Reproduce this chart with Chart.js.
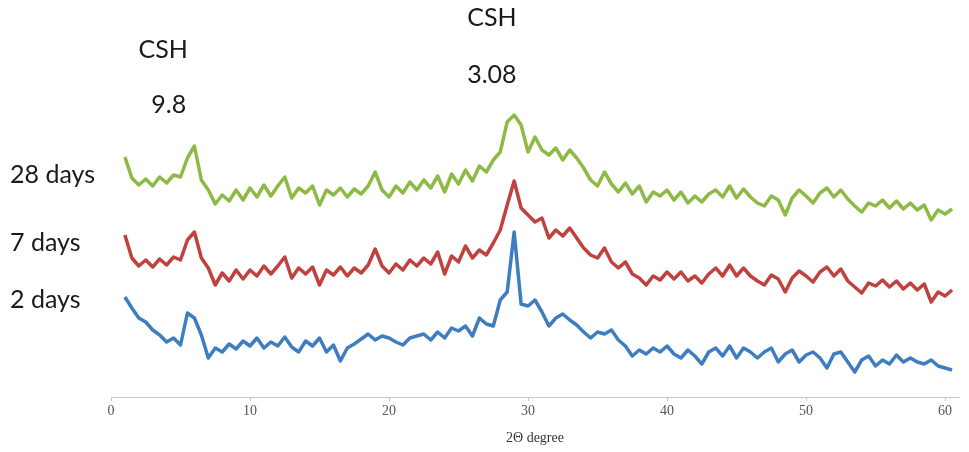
<!DOCTYPE html>
<html>
<head>
<meta charset="utf-8">
<title>XRD patterns</title>
<script src="https://cdn.jsdelivr.net/npm/chart.js@4.4.0/dist/chart.umd.min.js"></script>
<style>
  html, body { margin: 0; padding: 0; background: #fff; }
</style>
</head>
<body>
<canvas id="xrdChart" width="969" height="452"></canvas>
<script>
// 2-theta positions (degrees) of every sample
const twoTheta = [
  1.0, 1.5, 2.0, 2.5, 3.0, 3.5, 4.0, 4.5, 5.0, 5.5,
  6.0, 6.5, 7.0, 7.5, 8.0, 8.5, 9.0, 9.5, 10.0, 10.5,
  11.0, 11.5, 12.0, 12.5, 13.0, 13.5, 14.0, 14.5, 15.0, 15.5,
  16.0, 16.5, 17.0, 17.5, 18.0, 18.5, 19.0, 19.5, 20.0, 20.5,
  21.0, 21.5, 22.0, 22.5, 23.0, 23.5, 24.0, 24.5, 25.0, 25.5,
  26.0, 26.5, 27.0, 27.5, 28.0, 28.5, 29.0, 29.5, 30.0, 30.5,
  31.0, 31.5, 32.0, 32.5, 33.0, 33.5, 34.0, 34.5, 35.0, 35.5,
  36.0, 36.5, 37.0, 37.5, 38.0, 38.5, 39.0, 39.5, 40.0, 40.5,
  41.0, 41.5, 42.0, 42.5, 43.0, 43.5, 44.0, 44.5, 45.0, 45.5,
  46.0, 46.5, 47.0, 47.5, 48.0, 48.5, 49.0, 49.5, 50.0, 50.5,
  51.0, 51.5, 52.0, 52.5, 53.0, 53.5, 54.0, 54.5, 55.0, 55.5,
  56.0, 56.5, 57.0, 57.5, 58.0, 58.5, 59.0, 59.5, 60.0, 60.5
];

// intensity (a.u., curves stacked with an offset)
const days2 = [
  100, 89, 79, 75, 67, 62, 55, 59, 52, 84,
  79, 62, 39, 49, 45, 53, 48, 56, 51, 59,
  49, 55, 51, 60, 50, 45, 56, 51, 59, 45,
  52, 36, 49, 53, 58, 63, 57, 61, 59, 55,
  52, 59, 61, 63, 57, 65, 59, 69, 66, 71,
  61, 79, 73, 71, 97, 105, 165, 93, 91, 97,
  85, 71, 79, 83, 77, 72, 65, 59, 65, 63,
  67, 57, 51, 41, 47, 43, 49, 45, 51, 43,
  39, 47, 41, 33, 45, 49, 41, 51, 39, 49,
  45, 39, 45, 49, 35, 43, 47, 35, 42, 45,
  39, 29, 43, 45, 35, 25, 37, 41, 31, 37,
  33, 42, 35, 39, 35, 33, 37, 31, 29, 27
];

const days7 = [
  162, 139, 131, 137, 130, 138, 132, 140, 137, 157,
  165, 139, 129, 112, 124, 116, 127, 118, 127, 121,
  131, 123, 131, 140, 119, 129, 123, 130, 112, 127,
  122, 130, 121, 129, 124, 132, 148, 131, 124, 133,
  127, 137, 131, 139, 133, 145, 123, 141, 135, 151,
  139, 147, 142, 154, 167, 192, 216, 189, 182, 175,
  179, 159, 167, 161, 169, 159, 149, 142, 139, 149,
  135, 129, 135, 123, 119, 112, 121, 117, 125, 118,
  125, 116, 121, 114, 123, 129, 121, 132, 121, 129,
  121, 116, 112, 122, 118, 105, 119, 126, 121, 115,
  125, 130, 121, 128, 116, 110, 104, 114, 111, 117,
  110, 116, 108, 114, 107, 113, 95, 105, 101, 107
];

const days28 = [
  240, 219, 212, 218, 211, 220, 214, 222, 220, 239,
  251, 217, 207, 193, 202, 196, 207, 197, 209, 200,
  212, 201, 211, 220, 199, 209, 204, 211, 192, 207,
  202, 209, 200, 208, 203, 211, 225, 207, 200, 211,
  204, 215, 207, 217, 209, 221, 205, 223, 213, 227,
  216, 231, 225, 237, 245, 275, 282, 272, 245, 260,
  247, 242, 249, 237, 247, 239, 229, 217, 211, 225,
  213, 205, 214, 203, 211, 195, 205, 201, 207, 197,
  205, 194, 201, 195, 203, 207, 200, 211, 199, 208,
  200, 194, 191, 201, 197, 182, 199, 207, 201, 194,
  204, 209, 200, 207, 198, 191, 185, 194, 191, 197,
  189, 196, 188, 194, 187, 192, 177, 187, 183, 188
];

const seriesNames = ['2 days', '7 days', '28 days'];
const xTicks = [0, 10, 20, 30, 40, 50, 60];

const toPoints = values => values.map((v, i) => ({ x: twoTheta[i], y: v }));

// text drawn around the plot: peak notes and the curve names on the left
const xrdText = {
  id: 'xrdText',
  afterDraw(chart, args, opts) {
    const { ctx } = chart;
    const xScale = chart.scales.x;
    ctx.save();
    ctx.fillStyle = '#1a1a1a';
    ctx.textBaseline = 'middle';
    ctx.font = '25px Lato, "Open Sans", sans-serif';

    ctx.textAlign = 'center';
    opts.peaks.forEach(p => {
      p.lines.forEach((txt, k) => {
        ctx.fillText(txt, xScale.getPixelForValue(p.at[k]), p.rows[k]);
      });
    });

    ctx.textAlign = 'left';
    opts.names.forEach(n => ctx.fillText(n.text, 10, n.row));
    ctx.restore();
  }
};

new Chart(document.getElementById('xrdChart'), {
  type: 'line',
  data: {
    datasets: [
      { label: seriesNames[0], data: toPoints(days2), borderColor: '#3f7dc1' },
      { label: seriesNames[1], data: toPoints(days7), borderColor: '#c0413d' },
      { label: seriesNames[2], data: toPoints(days28), borderColor: '#8dba45' }
    ]
  },
  options: {
    responsive: false,
    animation: false,
    parsing: false,
    elements: {
      line: { borderWidth: 3.5, tension: 0, borderJoinStyle: 'round' },
      point: { radius: 0 }
    },
    layout: { padding: { left: 111, right: 10, top: 0, bottom: 0 } },
    plugins: {
      legend: { display: false },
      tooltip: { enabled: false },
      xrdText: {
        peaks: [
          { lines: ['CSH', '9.8'], at: [3.75, 4.15], rows: [50, 105] },
          { lines: ['CSH', '3.08'], at: [27.4, 27.4], rows: [18, 75] }
        ],
        names: [
          { text: seriesNames[2], row: 175 },
          { text: seriesNames[1], row: 243 },
          { text: seriesNames[0], row: 300 }
        ]
      }
    },
    scales: {
      x: {
        type: 'linear',
        min: 0,
        max: 61,
        afterBuildTicks: s => { s.ticks = xTicks.map(v => ({ value: v })); },
        afterFit: s => { s.height = 55; },
        border: { display: true, color: '#c6c6c6', width: 1 },
        grid: { display: true, drawOnChartArea: false, tickLength: 4, color: '#c6c6c6' },
        ticks: {
          padding: 2,
          color: '#555',
          font: { family: '"Liberation Serif", "DejaVu Serif", serif', size: 14 }
        },
        title: {
          display: true,
          text: '2Θ degree',
          color: '#333',
          padding: { top: 0, bottom: 5 },
          font: { family: '"Liberation Serif", "DejaVu Serif", serif', size: 14 }
        }
      },
      y: {
        display: false,
        min: 0,
        max: 397
      }
    }
  },
  plugins: [xrdText]
});
</script>
</body>
</html>
